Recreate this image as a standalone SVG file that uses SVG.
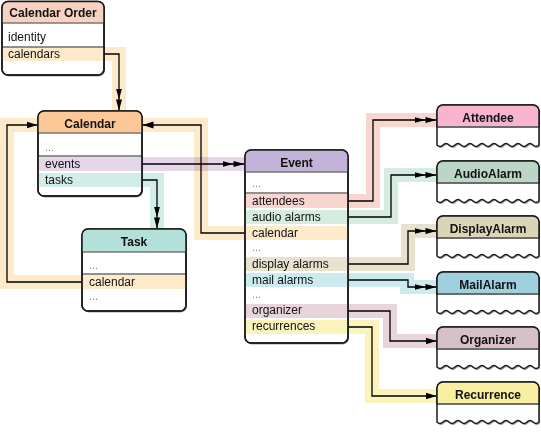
<svg xmlns="http://www.w3.org/2000/svg" width="541" height="435" viewBox="0 0 541 435">
<style>
.h{font:bold 12px "Liberation Sans",Arial,sans-serif;text-anchor:middle;fill:#111}
.t{font:12px "Liberation Sans",Arial,sans-serif;fill:#111}
.d{font:11px "Liberation Sans",Arial,sans-serif;fill:#888}
.box{fill:#fff;stroke:#1a1a1a;stroke-width:1.5}
.sh{fill:#000;opacity:.35}
.hs{stroke:#777;stroke-width:1.5}
.rs{stroke:#222;stroke-width:1}
.band{fill:none;stroke-width:14;stroke-linejoin:miter;mix-blend-mode:multiply}
.ln{fill:none;stroke:#000;stroke-width:1.3}
.one{marker-end:url(#one)}
.many{marker-end:url(#many)}
</style>
<defs>
<marker id="one" markerWidth="12" markerHeight="8" refX="11" refY="4" orient="auto" markerUnits="userSpaceOnUse"><path d="M0,0.5 L11,4 L0,7.5 Z" fill="#000"/></marker>
<marker id="many" markerWidth="23" markerHeight="8" refX="22" refY="4" orient="auto" markerUnits="userSpaceOnUse"><path d="M0,1 L11,4 L0,7 Z M11,1 L22,4 L11,7 Z" fill="#000"/></marker>
</defs>
<rect width="541" height="435" fill="#fff"/>

<g id="connector-bands">
<path class="band" stroke="#FDEACB" d="M104,54 H119 V111"/>
<path class="band" stroke="#FDEACB" d="M82,282 H7 V125 H38"/>
<path class="band" stroke="#FDEACB" d="M245,233 H201 V125 H142"/>
<path class="band" stroke="#E5D6EA" d="M142,164 H245"/>
<path class="band" stroke="#D2ECE7" d="M142,180 H157 V229"/>
<path class="band" stroke="#F9D5CF" d="M348,201 H373 V120 H437"/>
<path class="band" stroke="#D7ECE0" d="M348,217 H391 V175 H437"/>
<path class="band" stroke="#E6E2CE" d="M348,264 H408 V231 H437"/>
<path class="band" stroke="#CCEBEE" d="M348,280 H407 V287 H437"/>
<path class="band" stroke="#E8D5DC" d="M348,311 H390 V341 H437"/>
<path class="band" stroke="#FBF3BC" d="M348,327 H372 V396 H437"/>
</g>

<g id="connectors">
<path class="ln many" d="M104,54 H119 V110.5"/>
<path class="ln one" d="M82,282 H7 V125 H37.5"/>
<path class="ln one" d="M245,233 H201 V125 H142.5"/>
<path class="ln many" d="M142,164 H244.5"/>
<path class="ln many" d="M142,180 H157 V228.5"/>
<path class="ln many" d="M348,201 H373 V120 H436.5"/>
<path class="ln many" d="M348,217 H391 V175 H436.5"/>
<path class="ln many" d="M348,264 H408 V231 H436.5"/>
<path class="ln many" d="M348,280 H408 V287 H436.5"/>
<path class="ln one" d="M348,311 H390 V341 H436.5"/>
<path class="ln one" d="M348,327 H372 V396 H436.5"/>
</g>

<g id="node-calendar-order">
<rect class="sh" x="3" y="3" width="102" height="73.5" rx="6"/>
<rect class="box" x="2" y="1.5" width="102" height="73.5" rx="6"/>
<path d="M2,23 V7.5 A6,6 0 0 1 8,1.5 H98 A6,6 0 0 1 104,7.5 V23 Z" fill="#F8D2C1"/>
<rect x="2.75" y="47.5" width="100.5" height="13.5" fill="#FDEACB"/>
<line class="hs" x1="2" y1="23" x2="104" y2="23"/>
<line class="rs" x1="2" y1="47" x2="104" y2="47"/>
<rect x="2" y="1.5" width="102" height="73.5" rx="6" fill="none" stroke="#1a1a1a" stroke-width="1.5"/>
<text class="h" x="53" y="17">Calendar Order</text>
<text class="t" x="8" y="41">identity</text>
<text class="t" x="8" y="58">calendars</text>
</g>

<g id="node-calendar">
<rect class="sh" x="39" y="112.5" width="104" height="85" rx="6"/>
<rect class="box" x="38" y="111" width="104" height="85" rx="6"/>
<path d="M38,133 V117 A6,6 0 0 1 44,111 H136 A6,6 0 0 1 142,117 V133 Z" fill="#FDC898"/>
<rect x="38.75" y="157" width="102.5" height="14" fill="#E5D6EA"/>
<rect x="38.75" y="173" width="102.5" height="14" fill="#D2ECE7"/>
<line class="hs" x1="38" y1="133" x2="142" y2="133"/>
<line class="rs" x1="38" y1="156" x2="142" y2="156"/>
<rect x="38" y="111" width="104" height="85" rx="6" fill="none" stroke="#1a1a1a" stroke-width="1.5"/>
<text class="h" x="90" y="128">Calendar</text>
<text class="d" x="45" y="151">...</text>
<text class="t" x="45" y="168">events</text>
<text class="t" x="45" y="184">tasks</text>
</g>

<g id="node-task">
<rect class="sh" x="83" y="230.5" width="104" height="82" rx="6"/>
<rect class="box" x="82" y="229" width="104" height="82" rx="6"/>
<path d="M82,252 V235 A6,6 0 0 1 88,229 H180 A6,6 0 0 1 186,235 V252 Z" fill="#B3E1DA"/>
<rect x="82.75" y="275" width="102.5" height="14" fill="#FDEACB"/>
<line class="hs" x1="82" y1="252" x2="186" y2="252"/>
<line class="rs" x1="82" y1="274" x2="186" y2="274"/>
<rect x="82" y="229" width="104" height="82" rx="6" fill="none" stroke="#1a1a1a" stroke-width="1.5"/>
<text class="h" x="134" y="246">Task</text>
<text class="d" x="89" y="269">...</text>
<text class="t" x="89" y="286">calendar</text>
<text class="d" x="89" y="300">...</text>
</g>

<g id="node-event">
<rect class="sh" x="246" y="151.5" width="103" height="193" rx="6"/>
<rect class="box" x="245" y="150" width="103" height="193" rx="6"/>
<path d="M245,172 V156 A6,6 0 0 1 251,150 H342 A6,6 0 0 1 348,156 V172 Z" fill="#C3B3D9"/>
<rect x="245.75" y="194" width="101.5" height="14" fill="#F9D5CF"/>
<rect x="245.75" y="210" width="101.5" height="14" fill="#D7ECE0"/>
<rect x="245.75" y="226" width="101.5" height="14" fill="#FDEACB"/>
<rect x="245.75" y="257" width="101.5" height="14" fill="#E6E2CE"/>
<rect x="245.75" y="273" width="101.5" height="14" fill="#CCEBEE"/>
<rect x="245.75" y="304" width="101.5" height="14" fill="#E8D5DC"/>
<rect x="245.75" y="320" width="101.5" height="14" fill="#FBF3BC"/>
<line class="hs" x1="245" y1="172" x2="348" y2="172"/>
<line class="rs" x1="245" y1="193" x2="348" y2="193"/>
<rect x="245" y="150" width="103" height="193" rx="6" fill="none" stroke="#1a1a1a" stroke-width="1.5"/>
<text class="h" x="296.5" y="167">Event</text>
<text class="d" x="252" y="187">...</text>
<text class="t" x="252" y="205">attendees</text>
<text class="t" x="252" y="221">audio alarms</text>
<text class="t" x="252" y="237">calendar</text>
<text class="d" x="252" y="251">...</text>
<text class="t" x="252" y="268">display alarms</text>
<text class="t" x="252" y="284">mail alarms</text>
<text class="d" x="252" y="298">...</text>
<text class="t" x="252" y="314">organizer</text>
<text class="t" x="252" y="330">recurrences</text>
</g>

<g id="node-attendee">
<path class="sh" transform="translate(1,1.5)" d="M437,145 V111 A6,6 0 0 1 443,105 H533 A6,6 0 0 1 539,111 V145 q-3,3 -6,0 t-6,0 t-6,0 t-6,0 t-6,0 t-6,0 t-6,0 t-6,0 t-6,0 t-6,0 t-6,0 t-6,0 t-6,0 t-6,0 t-6,0 t-6,0 t-6,0 Z"/>
<path class="box" d="M437,145 V111 A6,6 0 0 1 443,105 H533 A6,6 0 0 1 539,111 V145 q-3,3 -6,0 t-6,0 t-6,0 t-6,0 t-6,0 t-6,0 t-6,0 t-6,0 t-6,0 t-6,0 t-6,0 t-6,0 t-6,0 t-6,0 t-6,0 t-6,0 t-6,0 Z"/>
<path d="M437,127 V111 A6,6 0 0 1 443,105 H533 A6,6 0 0 1 539,111 V127 Z" fill="#F9B4CF" stroke="#1a1a1a" stroke-width="1.5"/>
<line class="hs" x1="437.75" y1="127" x2="538.25" y2="127"/>
<text class="h" x="488" y="121.5">Attendee</text>
</g>

<g id="node-audioalarm">
<path class="sh" transform="translate(1,1.5)" d="M437,201 V167 A6,6 0 0 1 443,161 H533 A6,6 0 0 1 539,167 V201 q-3,3 -6,0 t-6,0 t-6,0 t-6,0 t-6,0 t-6,0 t-6,0 t-6,0 t-6,0 t-6,0 t-6,0 t-6,0 t-6,0 t-6,0 t-6,0 t-6,0 t-6,0 Z"/>
<path class="box" d="M437,201 V167 A6,6 0 0 1 443,161 H533 A6,6 0 0 1 539,167 V201 q-3,3 -6,0 t-6,0 t-6,0 t-6,0 t-6,0 t-6,0 t-6,0 t-6,0 t-6,0 t-6,0 t-6,0 t-6,0 t-6,0 t-6,0 t-6,0 t-6,0 t-6,0 Z"/>
<path d="M437,183 V167 A6,6 0 0 1 443,161 H533 A6,6 0 0 1 539,167 V183 Z" fill="#B9D6C6" stroke="#1a1a1a" stroke-width="1.5"/>
<line class="hs" x1="437.75" y1="183" x2="538.25" y2="183"/>
<text class="h" x="488" y="177.5">AudioAlarm</text>
</g>

<g id="node-displayalarm">
<path class="sh" transform="translate(1,1.5)" d="M437,256 V222 A6,6 0 0 1 443,216 H533 A6,6 0 0 1 539,222 V256 q-3,3 -6,0 t-6,0 t-6,0 t-6,0 t-6,0 t-6,0 t-6,0 t-6,0 t-6,0 t-6,0 t-6,0 t-6,0 t-6,0 t-6,0 t-6,0 t-6,0 t-6,0 Z"/>
<path class="box" d="M437,256 V222 A6,6 0 0 1 443,216 H533 A6,6 0 0 1 539,222 V256 q-3,3 -6,0 t-6,0 t-6,0 t-6,0 t-6,0 t-6,0 t-6,0 t-6,0 t-6,0 t-6,0 t-6,0 t-6,0 t-6,0 t-6,0 t-6,0 t-6,0 t-6,0 Z"/>
<path d="M437,238 V222 A6,6 0 0 1 443,216 H533 A6,6 0 0 1 539,222 V238 Z" fill="#DAD5B6" stroke="#1a1a1a" stroke-width="1.5"/>
<line class="hs" x1="437.75" y1="238" x2="538.25" y2="238"/>
<text class="h" x="488" y="232.5">DisplayAlarm</text>
</g>

<g id="node-mailalarm">
<path class="sh" transform="translate(1,1.5)" d="M437,312 V278 A6,6 0 0 1 443,272 H533 A6,6 0 0 1 539,278 V312 q-3,3 -6,0 t-6,0 t-6,0 t-6,0 t-6,0 t-6,0 t-6,0 t-6,0 t-6,0 t-6,0 t-6,0 t-6,0 t-6,0 t-6,0 t-6,0 t-6,0 t-6,0 Z"/>
<path class="box" d="M437,312 V278 A6,6 0 0 1 443,272 H533 A6,6 0 0 1 539,278 V312 q-3,3 -6,0 t-6,0 t-6,0 t-6,0 t-6,0 t-6,0 t-6,0 t-6,0 t-6,0 t-6,0 t-6,0 t-6,0 t-6,0 t-6,0 t-6,0 t-6,0 t-6,0 Z"/>
<path d="M437,294 V278 A6,6 0 0 1 443,272 H533 A6,6 0 0 1 539,278 V294 Z" fill="#9ED0DE" stroke="#1a1a1a" stroke-width="1.5"/>
<line class="hs" x1="437.75" y1="294" x2="538.25" y2="294"/>
<text class="h" x="488" y="288.5">MailAlarm</text>
</g>

<g id="node-organizer">
<path class="sh" transform="translate(1,1.5)" d="M437,367 V333 A6,6 0 0 1 443,327 H533 A6,6 0 0 1 539,333 V367 q-3,3 -6,0 t-6,0 t-6,0 t-6,0 t-6,0 t-6,0 t-6,0 t-6,0 t-6,0 t-6,0 t-6,0 t-6,0 t-6,0 t-6,0 t-6,0 t-6,0 t-6,0 Z"/>
<path class="box" d="M437,367 V333 A6,6 0 0 1 443,327 H533 A6,6 0 0 1 539,333 V367 q-3,3 -6,0 t-6,0 t-6,0 t-6,0 t-6,0 t-6,0 t-6,0 t-6,0 t-6,0 t-6,0 t-6,0 t-6,0 t-6,0 t-6,0 t-6,0 t-6,0 t-6,0 Z"/>
<path d="M437,349 V333 A6,6 0 0 1 443,327 H533 A6,6 0 0 1 539,333 V349 Z" fill="#D4C0C6" stroke="#1a1a1a" stroke-width="1.5"/>
<line class="hs" x1="437.75" y1="349" x2="538.25" y2="349"/>
<text class="h" x="488" y="343.5">Organizer</text>
</g>

<g id="node-recurrence">
<path class="sh" transform="translate(1,1.5)" d="M437,422 V388 A6,6 0 0 1 443,382 H533 A6,6 0 0 1 539,388 V422 q-3,3 -6,0 t-6,0 t-6,0 t-6,0 t-6,0 t-6,0 t-6,0 t-6,0 t-6,0 t-6,0 t-6,0 t-6,0 t-6,0 t-6,0 t-6,0 t-6,0 t-6,0 Z"/>
<path class="box" d="M437,422 V388 A6,6 0 0 1 443,382 H533 A6,6 0 0 1 539,388 V422 q-3,3 -6,0 t-6,0 t-6,0 t-6,0 t-6,0 t-6,0 t-6,0 t-6,0 t-6,0 t-6,0 t-6,0 t-6,0 t-6,0 t-6,0 t-6,0 t-6,0 t-6,0 Z"/>
<path d="M437,404 V388 A6,6 0 0 1 443,382 H533 A6,6 0 0 1 539,388 V404 Z" fill="#F8EFA0" stroke="#1a1a1a" stroke-width="1.5"/>
<line class="hs" x1="437.75" y1="404" x2="538.25" y2="404"/>
<text class="h" x="488" y="398.5">Recurrence</text>
</g>
</svg>
